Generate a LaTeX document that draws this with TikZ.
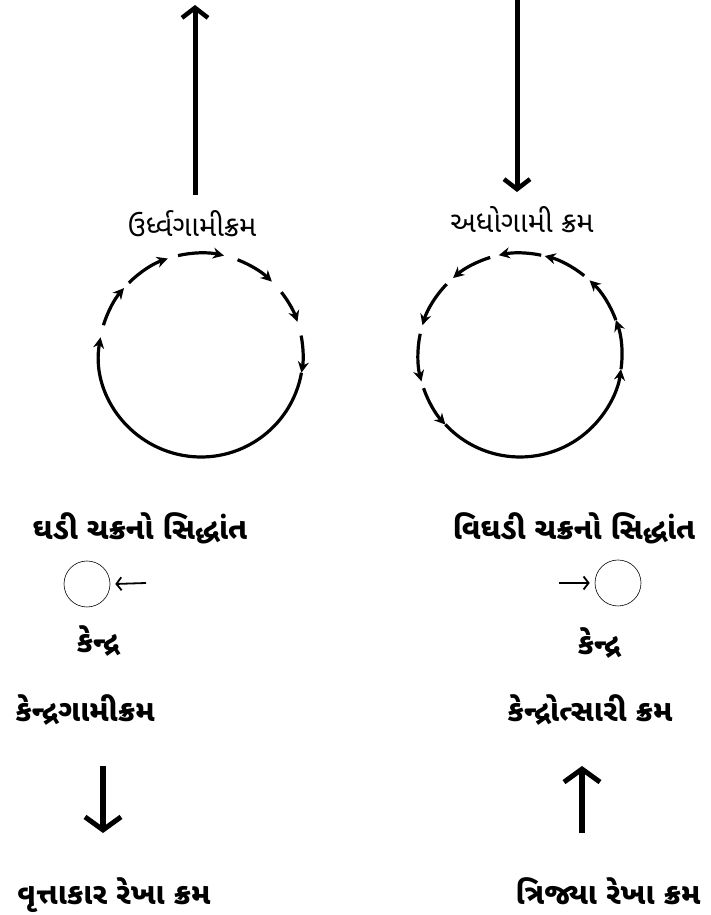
\documentclass[tikz,border=0pt]{standalone}
\usepackage{fontspec}
\newfontfamily\guj[Script=Gujarati]{Noto Sans Gujarati UI}
\usetikzlibrary{arrows.meta}

\begin{document}
\begin{tikzpicture}[x=1pt,y=1pt,
  lbl/.style={font=\guj\bfseries\fontsize{30}{34}\selectfont, inner sep=0pt, anchor=base},
  toplbl/.style={font=\guj\fontsize{29}{33}\selectfont, inner sep=0pt, anchor=base},
  bigarrow/.style={line width=5pt, -{Straight Barb[length=10pt,width=26pt,line width=4.5pt]}},
  fatarrow/.style={line width=6pt, -{Straight Barb[length=13pt,width=36pt,line width=5pt]}},
  thinarrow/.style={line width=1.8pt, -{Straight Barb[length=5pt,width=13pt]}},
  circarrow/.style={line width=3.2pt, -{Stealth[length=11pt,width=11pt]}},
  dot/.style={draw, circle, line width=0.6pt, minimum size=46pt, inner sep=0pt}]
\useasboundingbox (0,0) rectangle (710,915);

\node[toplbl] (upname) at (192,678) {ઉર્ધ્વગામીક્રમ};
\node[toplbl] (downname) at (522,682) {અધોગામી ક્રમ};
\coordinate (upbase) at (195,720);
\coordinate (uptip) at (195,910);
\coordinate (downtop) at (517,915);
\coordinate (downtip) at (517,723);
\draw[bigarrow] (upbase) -- (uptip);
\draw[bigarrow] (downtop) -- (downtip);

\node[circle, minimum size=204pt] (cw) at (201,560) {};
\node[circle, minimum size=204pt] (ccw) at (520,560) {};
\foreach \a/\b in {163/139, 135/109, 103/77, 69/46, 38/19, 11/-10, -10/-190}
  \draw[circarrow] (cw.center) ++(\a:102) arc[start angle=\a, end angle=\b, radius=102];
\foreach \a/\b in {51/76, 78/102, 107/131, 136/163, 168/195, 199/223, 223/352, 352/380, 380/407}
  \draw[circarrow] (ccw.center) ++(\a:102) arc[start angle=\a, end angle=\b, radius=102];

\node[lbl] (clock) at (140,375) {ઘડી ચક્રનો સિદ્ધાંત};
\node[lbl] (anticlock) at (574,375) {વિઘડી ચક્રનો સિદ્ધાંત};
\node[dot] (lcentre) at (87,331) {};
\node[dot] (rcentre) at (618,332) {};
\coordinate (lpoint) at (146,332);
\coordinate (rpoint) at (559,332);
\draw[thinarrow] (lpoint) -- ([xshift=5pt]lcentre.east);
\draw[thinarrow] (rpoint) -- ([xshift=-5pt]rcentre.west);
\node[lbl] (lken) at (98,262) {કેન્દ્ર};
\node[lbl] (rken) at (599,260) {કેન્દ્ર};
\node[lbl] (inward) at (85,193) {કેન્દ્રગામીક્રમ};
\node[lbl] (outward) at (590,193) {કેન્દ્રોત્સારી ક્રમ};
\coordinate (ltop) at (103,149);
\coordinate (lbot) at (103,82);
\coordinate (rbot) at (582,82);
\coordinate (rtop) at (582,149);
\draw[fatarrow] (ltop) -- (lbot);
\draw[fatarrow] (rbot) -- (rtop);
\node[lbl] (circline) at (114,10) {વૃત્તાકાર રેખા ક્રમ};
\node[lbl] (radline) at (608,10) {ત્રિજ્યા રેખા ક્રમ};
\end{tikzpicture}
\end{document}
